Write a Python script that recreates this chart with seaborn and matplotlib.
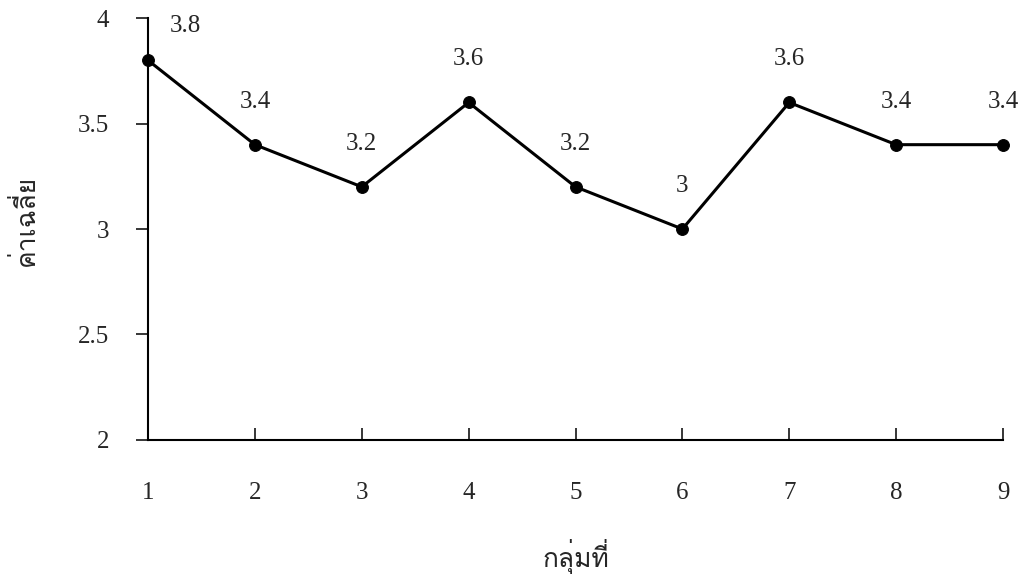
import matplotlib
matplotlib.use("Agg")
import matplotlib.pyplot as plt
import seaborn as sns
import pandas as pd
from matplotlib import font_manager
from matplotlib.ft2font import FT2Font

groups = [1, 2, 3, 4, 5, 6, 7, 8, 9]
means = [3.8, 3.4, 3.2, 3.6, 3.2, 3.0, 3.6, 3.4, 3.4]
mean_labels = ["3.8", "3.4", "3.2", "3.6", "3.2", "3", "3.6", "3.4", "3.4"]
y_ticks = [2, 2.5, 3, 3.5, 4]
y_tick_labels = ["2", "2.5", "3", "3.5", "4"]
x_title = "กลุ่มที่"
y_title = "ค่าเฉลี่ย"

sns.set_theme(style="ticks")
serif = ["Liberation Serif", "DejaVu Serif"]
plt.rcParams["font.family"] = serif

# pick any installed family that covers Thai script for the axis titles
thai_family = None
for f in font_manager.fontManager.ttflist:
    try:
        cmap = FT2Font(f.fname).get_charmap()
        if 0x0E01 in cmap and 0x0E48 in cmap:
            thai_family = f.name
            break
    except Exception:
        continue
title_family = [thai_family] + serif if thai_family else serif

df = pd.DataFrame({"group": groups, "mean": means})

fig = plt.figure(figsize=(10.28, 5.85), dpi=100)
ax = fig.add_axes([0.144, 0.248, 0.8317, 0.721])

sns.lineplot(data=df, x="group", y="mean", ax=ax, color="black",
             linewidth=2.2, marker="o", markersize=8.5,
             markeredgecolor="black", markerfacecolor="black", clip_on=False)

for i, (g, m, lab) in enumerate(zip(groups, means, mean_labels)):
    off = (37, 34) if i == 0 else (0, 43)
    ax.annotate(lab, (g, m), xytext=off, textcoords="offset pixels",
                ha="center", va="center", fontsize=18, family=serif)

ax.set_xlim(1, 9)
ax.set_ylim(2, 4)
ax.set_xticks(groups)
ax.set_xticklabels([str(g) for g in groups], fontsize=18, family=serif)
ax.set_yticks(y_ticks)
ax.set_yticklabels(y_tick_labels, fontsize=18, family=serif)
ax.tick_params(axis="x", direction="in", length=9, width=1.3, pad=30)
ax.tick_params(axis="y", direction="out", length=9, width=1.3, pad=19)

for side in ["top", "right"]:
    ax.spines[side].set_visible(False)
for side in ["left", "bottom"]:
    ax.spines[side].set_linewidth(1.5)
    ax.spines[side].set_color("black")

ax.set_xlabel(x_title, fontsize=19, family=title_family)
ax.xaxis.set_label_coords(0.50, -0.235)
ax.set_ylabel(y_title, fontsize=19, family=title_family)
ax.yaxis.set_label_coords(-0.128, 0.52)

fig.savefig("out.png", dpi=100, facecolor="white")
